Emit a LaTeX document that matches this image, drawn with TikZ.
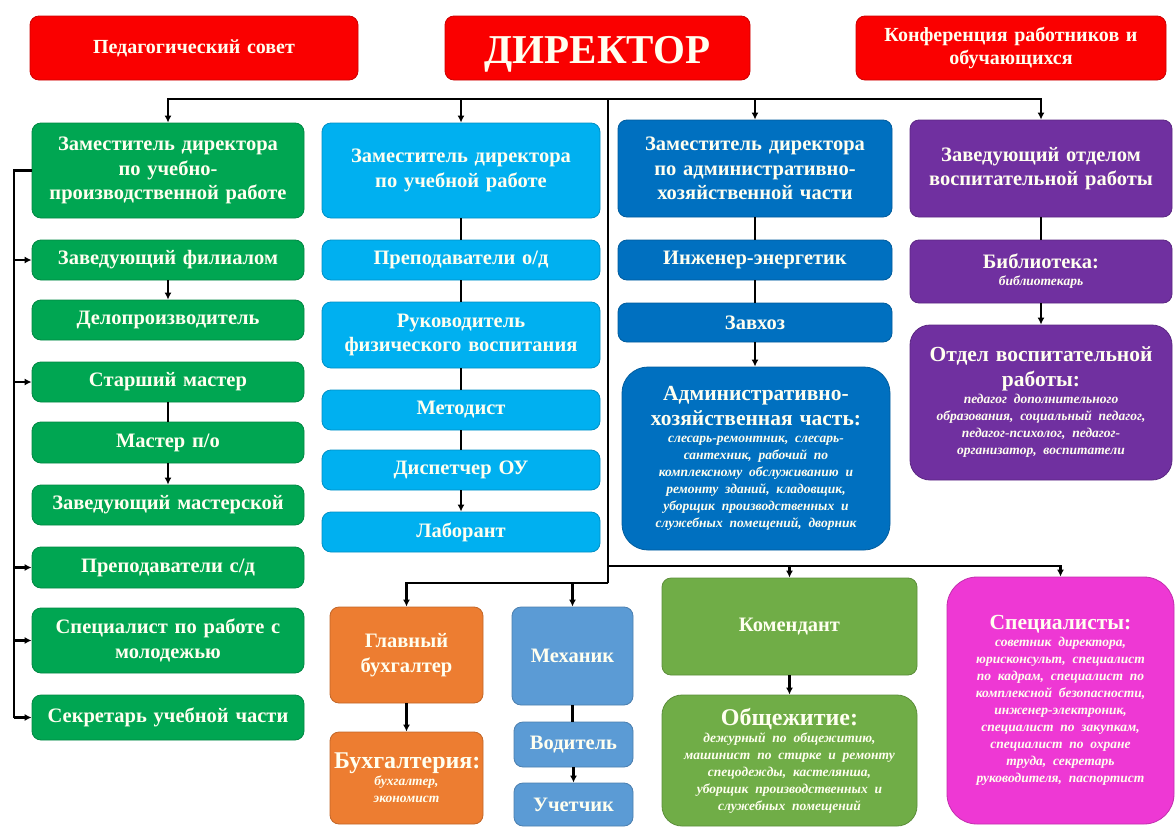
\documentclass[tikz,border=0pt]{standalone}
\usepackage{fontspec}
\setmainfont{Liberation Serif}
\usetikzlibrary{arrows.meta}
\definecolor{cred}{RGB}{250,0,0}
\definecolor{cgreen}{RGB}{0,166,82}
\definecolor{clblue}{RGB}{0,176,240}
\definecolor{cdblue}{RGB}{0,112,192}
\definecolor{cpurple}{RGB}{112,48,160}
\definecolor{corange}{RGB}{237,125,49}
\definecolor{csteel}{RGB}{91,155,213}
\definecolor{clgreen}{RGB}{112,173,71}
\definecolor{cmag}{RGB}{238,56,212}
\definecolor{ctext}{RGB}{255,255,240}
\newcommand{\mf}{\fontsize{20.5}{24.5}\selectfont\bfseries}
\newcommand{\tf}{\fontsize{20}{24}\selectfont\bfseries}
\newcommand{\hf}{\fontsize{21.5}{25}\selectfont\bfseries}
\newcommand{\bhf}{\fontsize{24}{27}\selectfont\bfseries}
\newcommand{\itf}{\fontsize{13.5}{17}\selectfont\bfseries\itshape}
\tikzset{
  bx/.style={rounded corners=9pt, text=ctext, align=center, inner sep=0pt, font=\mf,
    draw=#1!82!black, line width=0.8pt, fill=#1},
  wd/.style={minimum width=#1 pt, text width=#1 pt - 8pt},
  ht/.style={minimum height=#1 pt},
  ln/.style={line width=2.4pt, black},
  arr/.style={ln, -{Latex[length=7pt,width=7pt]}},
}
\begin{document}
\begin{tikzpicture}[x=1pt,y=-1pt]
\useasboundingbox (0,0) rectangle (1176,827);
\fill[white] (0,0) rectangle (1176,827);
% top
\node[bx=cred, wd=328, ht=64, font=\tf] (ped) at (194,48) {Педагогический совет};
\node[bx=cred, wd=305, ht=64, font=\fontsize{41}{44}\selectfont\bfseries] (dir) at (597.5,48) {\raisebox{-16pt}[0pt][0pt]{ДИРЕКТОР}};
\node[bx=cred, wd=310, ht=64, font=\tf] (konf) at (1011,48) {Конференция работников и\\обучающихся};
% green column
\node[bx=cgreen, wd=272, ht=95] (g1) at (168,170.5) {Заместитель директора\\по учебно-\\производственной работе};
\node[bx=cgreen, wd=272, ht=40] (g2) at (168,260) {Заведующий филиалом};
\node[bx=cgreen, wd=272, ht=40] (g3) at (168,320) {Делопроизводитель};
\node[bx=cgreen, wd=272, ht=40] (g4) at (168,382) {Старший мастер};
\node[bx=cgreen, wd=272, ht=41] (g5) at (168,442.5) {Мастер п/о};
\node[bx=cgreen, wd=272, ht=40] (g6) at (168,505) {Заведующий мастерской};
\node[bx=cgreen, wd=272, ht=41] (g7) at (168,567.5) {Преподаватели с/д};
\node[bx=cgreen, wd=272, ht=65] (g8) at (168,640.5) {Специалист по работе с\\молодежью};
\node[bx=cgreen, wd=272, ht=45] (g9) at (168,717.5) {Секретарь учебной части};
% light blue column
\node[bx=clblue, wd=278, ht=95] (b1) at (461,170.5) {Заместитель директора\\по учебной работе};
\node[bx=clblue, wd=278, ht=40] (b2) at (461,260) {Преподаватели о/д};
\node[bx=clblue, wd=278, ht=66] (b3) at (461,335) {Руководитель\\физического воспитания};
\node[bx=clblue, wd=278, ht=40] (b4) at (461,410) {Методист};
\node[bx=clblue, wd=278, ht=40] (b5) at (461,470) {Диспетчер ОУ};
\node[bx=clblue, wd=278, ht=40] (b6) at (461,532) {Лаборант};
% dark blue column
\node[bx=cdblue, wd=274, ht=97] (d1) at (755,168.5) {Заместитель директора\\по административно-\\хозяйственной части};
\node[bx=cdblue, wd=274, ht=40] (d2) at (755,260) {Инженер-энергетик};
\node[bx=cdblue, wd=274, ht=39] (d3) at (755,322.5) {Завхоз};
\node[bx=cdblue, wd=268, ht=183, rounded corners=26pt] (d4) at (756,458.5) {{\hf Административно-\\хозяйственная часть:\par}{\itf слесарь-ремонтник, слесарь-\\сантехник, рабочий по\\комплексному обслуживанию и\\ремонту зданий, кладовщик,\\уборщик производственных и\\служебных помещений, дворник\par}};
% purple column
\node[bx=cpurple, wd=262, ht=97] (p1) at (1041,168.5) {Заведующий отделом\\воспитательной работы};
\node[bx=cpurple, wd=262, ht=63] (p2) at (1041,271.5) {{\mf Библиотека:\par}{\itf библиотекарь\par}};
\node[bx=cpurple, wd=262, ht=155, rounded corners=20pt] (p3) at (1041,402.5) {{\hf Отдел воспитательной\\работы:\par}{\itf педагог дополнительного\\образования, социальный педагог,\\педагог-психолог, педагог-\\организатор, воспитатели\par}};
% bottom
\node[bx=corange, wd=153, ht=96] (gb) at (406.5,655) {Главный\\бухгалтер};
\node[bx=corange, wd=153, ht=92] (bh) at (406.5,778) {{\bhf Бухгалтерия:\par}{\itf бухгалтер,\\экономист\par}};
\node[bx=csteel, wd=121, ht=98] (mech) at (572.5,656) {Механик};
\node[bx=csteel, wd=119, ht=45] (vod) at (573.5,744.5) {Водитель};
\node[bx=csteel, wd=119, ht=43] (uch) at (573.5,804.5) {Учетчик};
\node[bx=clgreen, wd=255, ht=97] (kom) at (789.5,626.5) {Комендант};
\node[bx=clgreen, wd=255, ht=131, rounded corners=20pt] (obsch) at (789.5,760.5) {{\bhf Общежитие:\par}{\itf дежурный по общежитию,\\машинист по стирке и ремонту\\спецодежды, кастелянша,\\уборщик производственных и\\служебных помещений\par}};
\node[bx=cmag, wd=227, ht=247, rounded corners=30pt] (spec) at (1060.5,700.5) {{\hf Специалисты:\par}{\itf советник директора,\\юрисконсульт, специалист\\по кадрам, специалист по\\комплексной безопасности,\\инженер-электроник,\\специалист по закупкам,\\специалист по охране\\труда, секретарь\\руководителя, паспортист\par}};
% connectors
\coordinate (bus) at (608,99);
\coordinate (bus2) at (608,566);
\coordinate (bus3) at (608,583);
\draw[arr] (bus) -| (g1.north);
\draw[arr] (bus) -| (b1.north);
\draw[arr] (bus) -| (d1.north);
\draw[arr] (bus) -| (p1.north);
\draw[ln] (bus) -- (bus3);
\draw[arr] (bus2) -| (kom.north);
\draw[arr] (bus2) -| (spec.north);
\draw[arr] (bus3) -| (gb.north);
\draw[arr] (bus3) -| (mech.north);
% left bracket
\coordinate (L1) at (14,170.5);
\draw[ln] (g1.west) -- (L1) -- (L1 |- g9.west);
\draw[arr] (L1 |- g2.west) -- (g2.west);
\draw[arr] (L1 |- g4.west) -- (g4.west);
\draw[arr] (L1 |- g7.west) -- (g7.west);
\draw[arr] (L1 |- g8.west) -- (g8.west);
\draw[arr] (L1 |- g9.west) -- (g9.west);
% vertical links
\draw[arr] (g2) -- (g3);
\draw[ln] (g4) -- (g5);
\draw[arr] (g5) -- (g6);
\draw[ln] (b1) -- (b2);
\draw[ln] (b2) -- (b3);
\draw[ln] (b3) -- (b4);
\draw[ln] (b4) -- (b5);
\draw[arr] (b5) -- (b6);
\draw[ln] (d1) -- (d2);
\draw[ln] (d2) -- (d3);
\draw[arr] (d3.south) -- (d3.south |- d4.north);
\draw[ln] (p1) -- (p2);
\draw[arr] (p2) -- (p3);
\draw[arr] (gb) -- (bh);
\draw[ln] (mech.south) -- (mech.south |- vod.north);
\draw[arr] (vod) -- (uch);
\draw[arr] (kom) -- (obsch);
\end{tikzpicture}
\end{document}
